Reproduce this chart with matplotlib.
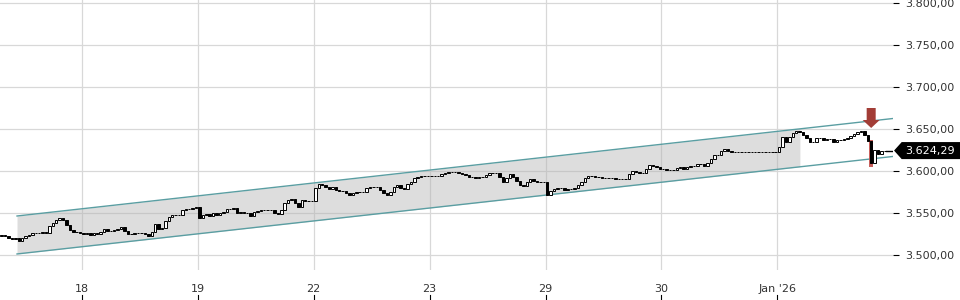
import numpy as np
import matplotlib
matplotlib.use("Agg")
import matplotlib.pyplot as plt
from matplotlib.patches import FancyArrow, Polygon
from matplotlib.transforms import blended_transform_factory

# closing prices, one row per session (15 min bars)
dec17 = [3523.8, 3522.6, 3520.2, 3519.1, 3520.2, 3516.7, 3520.2, 3522.6, 3523.8, 3526.2,
         3526.6, 3526.4, 3526.8, 3526.2, 3534.5, 3538.1, 3541.7, 3544.1, 3541.7, 3535.7,
         3529.8, 3527.4, 3527.8, 3526.2]
dec18 = [3525.0, 3526.2, 3523.8, 3526.2, 3525.0, 3527.4, 3531.0, 3528.6, 3528.9, 3529.8,
         3531.0, 3533.3, 3528.6, 3525.0, 3525.4, 3526.2, 3526.6, 3526.2, 3525.0, 3522.6,
         3527.4, 3536.9, 3531.0, 3532.1, 3540.5, 3545.2, 3547.6, 3547.9, 3547.6, 3553.6,
         3554.8, 3555.1, 3556.0, 3557.1]
dec19 = [3544.1, 3547.6, 3548.8, 3546.4, 3550.0, 3547.6, 3550.0, 3551.2, 3554.8, 3555.2,
         3556.0, 3550.0, 3551.2, 3550.0, 3550.4, 3546.4, 3551.2, 3552.4, 3553.6, 3553.9,
         3553.6, 3553.8, 3550.0, 3548.8, 3553.6, 3561.9, 3565.5, 3566.7, 3561.9, 3557.1,
         3565.5, 3564.3, 3564.6, 3564.3]
dec22 = [3579.8, 3584.5, 3583.3, 3581.0, 3578.6, 3581.0, 3577.4, 3576.2, 3576.5, 3573.8,
         3571.4, 3573.8, 3575.0, 3575.3, 3575.0, 3579.8, 3581.0, 3581.3, 3581.0, 3577.4,
         3573.8, 3571.4, 3575.0, 3581.0, 3583.3, 3579.8, 3578.6, 3584.5, 3586.9, 3591.7,
         3592.9, 3594.1, 3594.4, 3594.1]
dec23 = [3594.1, 3594.4, 3594.1, 3596.4, 3597.6, 3598.8, 3599.1, 3598.8, 3597.6, 3596.4,
         3595.2, 3592.9, 3593.2, 3591.7, 3592.9, 3593.1, 3595.2, 3597.6, 3597.9, 3597.6,
         3592.9, 3586.9, 3591.7, 3596.4, 3592.9, 3588.1, 3583.3, 3582.1, 3586.9, 3590.5,
         3588.1, 3586.9, 3587.2, 3586.9]
dec29 = [3571.4, 3576.2, 3578.6, 3579.8, 3580.1, 3577.4, 3578.6, 3578.9, 3579.8, 3583.3,
         3586.9, 3591.7, 3594.1, 3594.4, 3592.9, 3593.2, 3591.7, 3591.9, 3591.7, 3592.0,
         3590.5, 3590.8, 3590.5, 3590.7, 3596.4, 3600.0, 3598.8, 3597.6, 3597.9, 3602.4,
         3607.1, 3606.0, 3604.8, 3602.4]
dec30 = [3602.4, 3601.2, 3601.5, 3601.2, 3603.6, 3604.8, 3602.4, 3604.8, 3606.0, 3606.3,
         3608.3, 3608.6, 3606.0, 3609.5, 3614.3, 3619.1, 3619.4, 3623.8, 3626.2, 3623.8,
         3622.6, 3622.6, 3622.6, 3622.6, 3622.6, 3622.6, 3622.6, 3622.6, 3622.6, 3622.6,
         3622.6, 3622.6, 3622.6, 3622.6]
jan02 = [3628.6, 3640.5, 3634.5, 3640.5, 3645.2, 3647.6, 3646.4, 3642.9, 3639.3, 3634.5,
         3634.8, 3639.3, 3639.6, 3636.9, 3638.1, 3638.4, 3634.5, 3636.9, 3637.2, 3638.1,
         3639.3, 3641.7, 3644.1, 3646.4, 3647.6, 3642.9, 3635.7, 3609.5, 3625.0, 3620.2,
         3623.8, 3624.29]

closes = np.array(dec17 + dec18 + dec19 + dec22 + dec23 + dec29 + dec30 + jan02)
opens = np.concatenate([[3523.0], closes[:-1]])
last_price = 3624.29

day_labels = ["18", "19", "22", "23", "29", "30", "Jan '26"]
day_starts = [23.5, 57.5, 91.5, 125.5, 159.5, 193.5, 227.5]
yticks = [3500, 3550, 3600, 3650, 3700, 3750, 3800]

# regression channel (start / end points)
chan_x = [4.49, 261.4]
chan_upper = [3546.4, 3662.5]
chan_lower = [3501.2, 3617.3]
chan_fill_end = 234.1

signal_bar = 255
signal_wick = (3604.8, 3636.9)


def de_fmt(v):
    s = f"{v:,.2f}"
    return s.replace(",", "X").replace(".", ",").replace("X", ".")


fig = plt.figure(figsize=(9.6, 3.0), dpi=100)
ax = fig.add_axes([0, 0.1, 893 / 960, 0.9])
xmin, xmax = -0.5, 261.4
ax.set_xlim(xmin, xmax)
ax.set_ylim(3482.1, 3803.6)

# grid
for y in yticks:
    ax.axhline(y, color="#d8d8d8", lw=0.9, zorder=0)
for x in day_starts:
    ax.axvline(x, color="#d8d8d8", lw=0.9, zorder=0)

# channel
slope_u = (chan_upper[1] - chan_upper[0]) / (chan_x[1] - chan_x[0])
slope_l = (chan_lower[1] - chan_lower[0]) / (chan_x[1] - chan_x[0])
fx = [chan_x[0], chan_fill_end]
fu = [chan_upper[0], chan_upper[0] + slope_u * (chan_fill_end - chan_x[0])]
fl = [chan_lower[0], chan_lower[0] + slope_l * (chan_fill_end - chan_x[0])]
ax.fill_between(fx, fl, fu, color="#b0b0b0", alpha=0.42, lw=0, zorder=1)
ax.plot(chan_x, chan_upper, color="#5a9ea2", lw=1.0, zorder=2)
ax.plot(chan_x, chan_lower, color="#5a9ea2", lw=1.0, zorder=2)

# highlight behind the signal candle
ax.bar(signal_bar, signal_wick[1] - signal_wick[0], bottom=signal_wick[0], width=1.15,
       color="#c24f4a", alpha=0.9, lw=0, zorder=3)

# candles
idx = np.arange(len(closes))
up = closes >= opens
ax.bar(idx[up], closes[up] - opens[up], bottom=opens[up], width=0.72,
       color="white", edgecolor="black", linewidth=0.7, zorder=4)
ax.bar(idx[~up], closes[~up] - opens[~up], bottom=opens[~up], width=0.72,
       color="black", edgecolor="black", linewidth=0.7, zorder=4)

# last price line
ax.plot([idx[-1] + 0.4, xmax], [last_price, last_price], color="black", lw=1.0, zorder=4)

# sell arrow
arr = FancyArrow(signal_bar, 3675.0, 0, -23.8, width=2.64, head_width=5.0, head_length=9.5,
                 length_includes_head=True, color="#a23d36", lw=0, zorder=5)
ax.add_patch(arr)

# price tag
tr = blended_transform_factory(fig.transFigure, ax.transData)
h = 9.3
tag = Polygon([[895 / 960, last_price], [902 / 960, last_price + h], [1.0, last_price + h],
               [1.0, last_price - h], [902 / 960, last_price - h]],
              closed=True, transform=tr, color="black", clip_on=False, zorder=6)
ax.add_patch(tag)
ax.text(930 / 960, last_price, de_fmt(last_price), transform=tr, color="white",
        fontsize=8, ha="center", va="center", zorder=7)

# axes styling
for s in ax.spines.values():
    s.set_visible(False)
ax.yaxis.tick_right()
ax.set_yticks(yticks)
ax.set_yticklabels([de_fmt(v) for v in yticks])
ax.tick_params(axis="y", length=4, width=0.8, color="black", pad=5, labelsize=8,
               labelcolor="#333333")
ax.set_xticks(day_starts)
ax.set_xticklabels(day_labels)
ax.tick_params(axis="x", length=0, pad=10, labelsize=8, labelcolor="#333333")
for x in day_starts:
    ax.plot([x, x], [-0.093, -0.12], transform=ax.get_xaxis_transform(), color="black",
            lw=0.8, clip_on=False)

fig.savefig("out.png", dpi=100)
